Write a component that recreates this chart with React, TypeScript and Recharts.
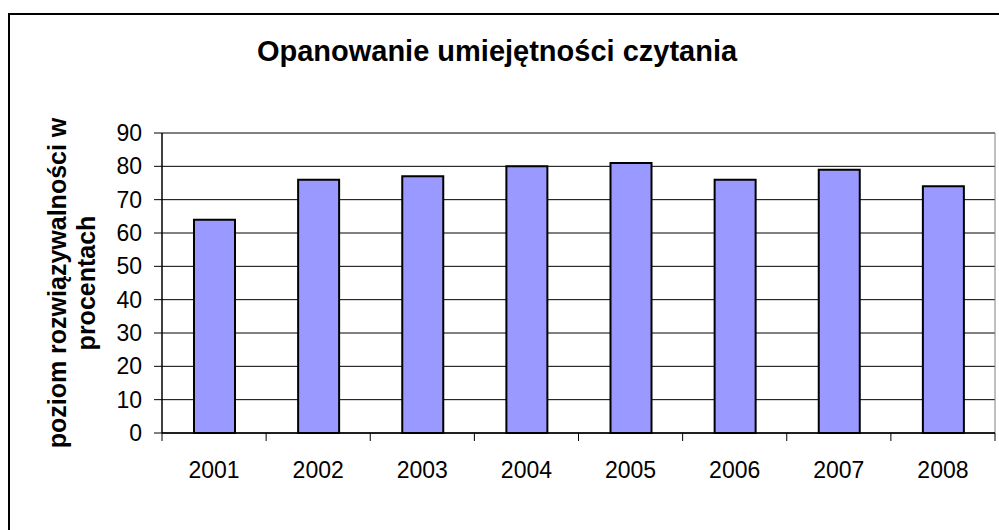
import React from 'react'
import { BarChart, Bar, XAxis, YAxis, CartesianGrid, Label } from 'recharts'

const years = ['2001', '2002', '2003', '2004', '2005', '2006', '2007', '2008']
const scores = [64, 76, 77, 80, 81, 76, 79, 74]
const yTicks = [0, 10, 20, 30, 40, 50, 60, 70, 80, 90]
const chartTitle = 'Opanowanie umiejętności czytania'
const yTitleLines = ['poziom rozwiązywalności w', 'procentach']

const data = years.map((year, i) => ({ year, score: scores[i] }))

const FONT = '"Liberation Sans", Arial, sans-serif'
const TICK_LEN = 8
const X_TICK_MARGIN = 21

const YearTick = (props: any) => {
  const { x, y, payload, index, visibleTicksCount } = props
  const half = payload && payload.offset ? payload.offset : 52
  const axisY = y - X_TICK_MARGIN - TICK_LEN
  const isLast = index === visibleTicksCount - 1
  return (
    <g>
      <line x1={x - half} x2={x - half} y1={axisY} y2={axisY + TICK_LEN} stroke="#000" />
      {isLast && (
        <line x1={x + half} x2={x + half} y1={axisY} y2={axisY + TICK_LEN} stroke="#000" />
      )}
      <text x={x} y={y} dy="0.71em" textAnchor="middle" fontFamily={FONT} fontSize={23} fill="#000">
        {payload.value}
      </text>
    </g>
  )
}

const YTitle = (props: any) => {
  const vb = props.viewBox || { x: 100, y: 133, width: 62, height: 300 }
  const cy = vb.y + vb.height / 2
  const lines = [vb.x - 34, vb.x - 5]
  return (
    <g>
      {yTitleLines.map((t, i) => (
        <text
          key={t}
          x={lines[i]}
          y={cy}
          textAnchor="middle"
          transform={`rotate(-90, ${lines[i]}, ${cy})`}
          fontFamily={FONT}
          fontSize={25}
          fontWeight="bold"
          fill="#000"
        >
          {t}
        </text>
      ))}
    </g>
  )
}

export default function App() {
  return (
    <div style={{ position: 'absolute', left: 0, top: 0, width: 999, height: 530, overflow: 'hidden', background: '#fff' }}>
      <div
        style={{
          position: 'absolute',
          left: 8,
          top: 13,
          width: 1100,
          height: 600,
          border: '2px solid #000',
        }}
      />
      <div
        style={{
          position: 'absolute',
          left: 0,
          top: 37,
          width: 994,
          textAlign: 'center',
          fontFamily: FONT,
          fontSize: 29,
          fontWeight: 'bold',
          lineHeight: 1,
          color: '#000',
        }}
      >
        {chartTitle}
      </div>
      <div style={{ position: 'absolute', left: 0, top: 0 }}>
        <BarChart
          width={999}
          height={530}
          data={data}
          margin={{ top: 133, right: 4, left: 100, bottom: 37 }}
          barSize={41}
        >
          <CartesianGrid vertical={false} stroke="#000" />
          <CartesianGrid
            stroke="#808080"
            horizontalCoordinatesGenerator={({ offset }: any) => [offset.top]}
            verticalCoordinatesGenerator={({ offset }: any) => [offset.left + offset.width]}
          />
          <XAxis
            dataKey="year"
            height={60}
            axisLine={{ stroke: '#000', strokeWidth: 1.5 }}
            tickLine={false}
            tickSize={TICK_LEN}
            tickMargin={X_TICK_MARGIN}
            tick={<YearTick />}
            interval={0}
          />
          <YAxis
            width={62}
            domain={[0, 90]}
            ticks={yTicks}
            interval={0}
            axisLine={{ stroke: '#000', strokeWidth: 1.5 }}
            tickLine={{ stroke: '#000' }}
            tickSize={TICK_LEN}
            tickMargin={12}
            tick={{ fontFamily: FONT, fontSize: 23, fill: '#000' }}
          >
            <Label content={<YTitle />} />
          </YAxis>
          <Bar
            dataKey="score"
            fill="#9999FF"
            stroke="#000"
            strokeWidth={2}
            isAnimationActive={false}
          />
        </BarChart>
      </div>
    </div>
  )
}
